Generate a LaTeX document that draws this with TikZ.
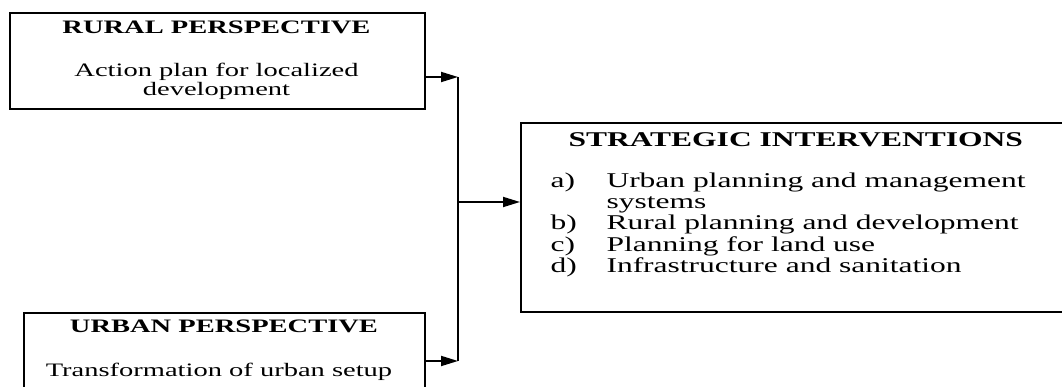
\documentclass[tikz,border=0pt]{standalone}
\usepackage{fontspec}
\setmainfont{Liberation Serif}[FakeStretch=1.5]
\usetikzlibrary{arrows.meta}

\tikzset{
  panel/.style={draw=black,line width=1.8pt,inner sep=0pt},
  smalltext/.style={font=\fontsize{19}{19}\selectfont,anchor=base},
  bigtext/.style={font=\fontsize{21}{21}\selectfont,anchor=base west},
  link/.style={line width=1.8pt,black},
  arr/.style={link,-{Triangle[length=17pt,width=10pt]}}
}

\begin{document}
\begin{tikzpicture}[x=1pt,y=1pt]
    \useasboundingbox (0,0) rectangle (1062,387);
    \clip (0,0) rectangle (1062,387);

    % boxes
    \node[panel,anchor=north west,minimum width=415pt,minimum height=96pt] (rural) at (9,375) {};
    \node[panel,anchor=north west,minimum width=401pt,minimum height=100pt] (urban) at (23,75) {};
    \node[panel,anchor=north west,minimum width=600pt,minimum height=189pt] (strategy) at (520,265) {};

    % rural text
    \node[smalltext] (ruraltitle) at (216.5,353) {\textbf{RURAL PERSPECTIVE}};
    \node[smalltext] (ruralbody) at (216.5,310) {\begin{tabular}[t]{@{}c@{}}Action plan for localized\\ development\end{tabular}};

    % urban text
    \node[smalltext] (urbantitle) at (224,54) {\textbf{URBAN PERSPECTIVE}};
    \node[smalltext] (urbanbody) at (219,10) {Transformation of urban setup};

    % strategic interventions
    \node[bigtext] (strategytitle) at (565,240) {\textbf{STRATEGIC INTERVENTIONS}};
    \node[bigtext] (strategylist) at (547,199) {\begin{tabular}[t]{@{}p{56pt}@{}l@{}}
        a) & Urban planning and management\\
           & systems\\
        b) & Rural planning and development\\
        c) & Planning for land use\\
        d) & Infrastructure and sanitation
    \end{tabular}};

    % connectors
    \coordinate (joinA) at (458,310);
    \coordinate (joinB) at (458,26);
    \coordinate (joinM) at (458,185);

    \draw[arr] (rural.east |- joinA) -- (joinA);
    \draw[arr] (urban.east |- joinB) -- (joinB);
    \draw[link] (joinA) -- (joinB);
    \draw[arr] (joinM) -- (strategy.west |- joinM);

\end{tikzpicture}
\end{document}
